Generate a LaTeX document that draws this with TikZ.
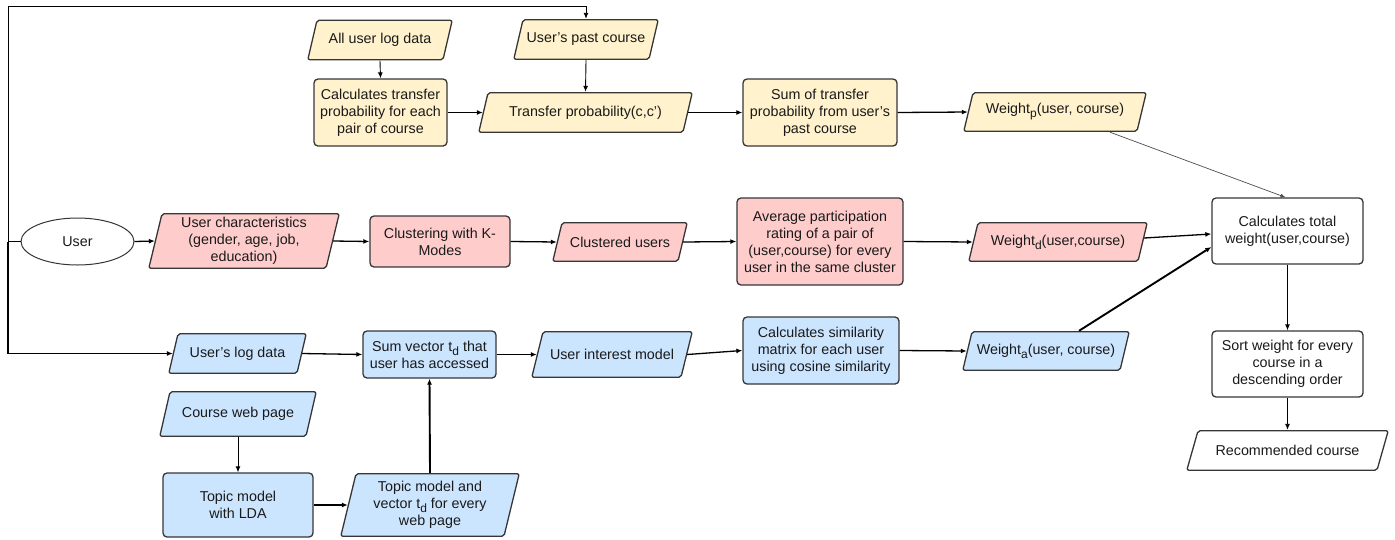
\documentclass[tikz,border=0pt]{standalone}
\usepackage{fontspec}
\setmainfont{Liberation Sans}
\usetikzlibrary{arrows.meta,shapes.geometric}
\definecolor{fy}{HTML}{FFF2CC}
\definecolor{fp}{HTML}{FFCCCC}
\definecolor{fb}{HTML}{CCE5FF}
\definecolor{bc}{HTML}{363636}
\definecolor{tc}{HTML}{1A1A1A}
\newcommand{\lsub}[1]{\raisebox{-4pt}{\fontsize{12}{12}\selectfont #1}}
\begin{document}
\begin{tikzpicture}[x=1pt,y=-1pt,
  font=\fontsize{14.3}{17}\selectfont, text=tc,
  sz/.style 2 args={minimum width=#1pt, minimum height=#2pt},
  box/.style={rectangle, rounded corners=4pt, draw=bc, line width=1.3pt, fill=#1, align=center, inner sep=1pt},
  para/.style 2 args={rectangle, inner sep=1pt, align=center,
    path picture={\draw[fill=#1, draw=bc, line width=1.3pt, rounded corners=2pt]
      ([shift={(#2pt,-0.8pt)}]path picture bounding box.north west) --
      ([shift={(-0.8pt,-0.8pt)}]path picture bounding box.north east) --
      ([shift={(-#2pt,0.8pt)}]path picture bounding box.south east) --
      ([shift={(0.8pt,0.8pt)}]path picture bounding box.south west) -- cycle;}},
  conn/.style={draw=black, line width=1.3pt, -{Latex[length=6pt,width=5pt]}},
  thinconn/.style={draw=black, line width=0.9pt, -{Latex[length=6pt,width=5pt]}},
  thickconn/.style={draw=black, line width=1.9pt, -{Latex[length=6pt,width=5pt]}},
  plain/.style={draw=black, line width=1.3pt}
]
\useasboundingbox (0,0) rectangle (1395,539);

% yellow row
\node[para={fy}{10}, sz={146}{41}] (alllog) at (380,40) {All user log data};
\node[box=fy, sz={133}{67}] (calctp) at (380.5,112.5) {Calculates transfer\\probability for each\\pair of course};
\node[para={fy}{10}, sz={146}{41}] (pastc) at (586,39.5) {User's past course};
\node[para={fy}{10}, sz={215}{41}] (tp) at (585.5,112.5) {Transfer probability(c,c')};
\node[box=fy, sz={154}{67}] (sumtp) at (820,112.5) {Sum of transfer\\probability from user's\\past course};
\node[para={fy}{10}, sz={184}{40}] (wp) at (1055,112) {Weight\lsub{p}(user, course)};

% right column
\node[box=white, sz={151}{66}] (total) at (1287.5,231) {Calculates total\\weight(user,course)};
\node[box=white, sz={151}{66}] (sort) at (1287.5,364) {Sort weight for every\\course in a\\descending order};
\node[para={white}{12}, sz={203}{41}] (rec) at (1287.5,450.5) {Recommended course};

% pink row
\node[ellipse, draw=bc, line width=1pt, fill=white, sz={113}{47}, inner sep=0pt] (user) at (77.5,241.5) {User};
\node[para={fp}{14}, sz={192}{56}] (uchar) at (244,241) {User characteristics\\(gender, age, job,\\education)};
\node[box=fp, sz={140}{51}] (clust) at (440,241.5) {Clustering with K-\\Modes};
\node[para={fp}{10}, sz={136}{40}] (clusu) at (620,242) {Clustered users};
\node[box=fp, sz={166}{87}] (avg) at (820,241.5) {Average participation\\rating of a pair of\\(user,course) for every\\user in the same cluster};
\node[para={fp}{10}, sz={180}{40}] (wd) at (1058,242) {Weight\lsub{d}(user,course)};

% blue row
\node[para={fb}{10}, sz={139}{41}] (ulog) at (237.5,353.5) {User's log data};
\node[box=fb, sz={133}{47}] (sumv) at (429.5,354.5) {Sum vector t\lsub{d} that\\user has accessed};
\node[para={fb}{12}, sz={162}{47}] (uim) at (612,354.5) {User interest model};
\node[box=fb, sz={156}{67}] (sim) at (821,350.5) {Calculates similarity\\matrix for each user\\using cosine similarity};
\node[para={fb}{10}, sz={168}{40}] (wa) at (1046,351) {Weight\lsub{a}(user, course)};
\node[para={fb}{11}, sz={158}{46}] (cwp) at (238,414) {Course web page};
\node[box=fb, sz={150}{64}] (tlda) at (238,505) {Topic model\\with LDA};
\node[para={fb}{16}, sz={180}{64}] (tvec) at (430,505) {Topic model and\\vector t\lsub{d} for every\\web page};

% left loop
\coordinate (lm) at (8,241.5);
\coordinate (lt) at (8,6);
\draw[plain] (user.west) -- (lm);
\draw[thinconn] (lm) -- (lt) -| (pastc.north);
\draw[conn] (lm) |- ([xshift=5pt]ulog.west);

% yellow connectors
\draw[thinconn] (alllog.south) -- (calctp.north);
\draw[conn] (calctp.east) -- ([xshift=5pt]tp.west);
\draw[thinconn] (pastc.south) -- (tp.north);
\draw[conn] ([xshift=-5pt]tp.east) -- (sumtp.west);
\draw[conn] (sumtp.east) -- ([xshift=5pt]wp.west);
\draw[draw=black!70, line width=0.7pt, -{Latex[length=5pt,width=4pt]}] ([xshift=55pt]wp.south) -- ([xshift=-2pt]total.north);

% pink connectors
\draw[conn] (user.east) -- ([xshift=7pt]uchar.west);
\draw[conn] ([xshift=-7pt]uchar.east) -- (clust.west);
\draw[conn] (clust.east) -- ([xshift=5pt]clusu.west);
\draw[conn] ([xshift=-5pt]clusu.east) -- (avg.west);
\draw[conn] (avg.east) -- ([xshift=5pt]wd.west);
\draw[conn] ([xshift=-4pt,yshift=4pt]wd.east) -- ([yshift=-3pt]total.west);

% blue connectors
\draw[conn] ([xshift=-5pt]ulog.east) -- (sumv.west);
\draw[conn] (sumv.east) -- ([xshift=6pt]uim.west);
\draw[conn] ([xshift=-6pt]uim.east) -- (sim.west);
\draw[conn] (sim.east) -- ([xshift=5pt]wa.west);
\draw[thickconn] ([xshift=33pt]wa.north) -- ([yshift=-16pt]total.west);
\draw[thinconn] (cwp.south) -- (tlda.north);
\draw[conn] (tlda.east) -- ([xshift=8pt]tvec.west);
\draw[thickconn] (tvec.north) -- (sumv.south);

% right column connectors
\draw[thinconn] (total.south) -- (sort.north);
\draw[thinconn] (sort.south) -- (rec.north);
\end{tikzpicture}
\end{document}
